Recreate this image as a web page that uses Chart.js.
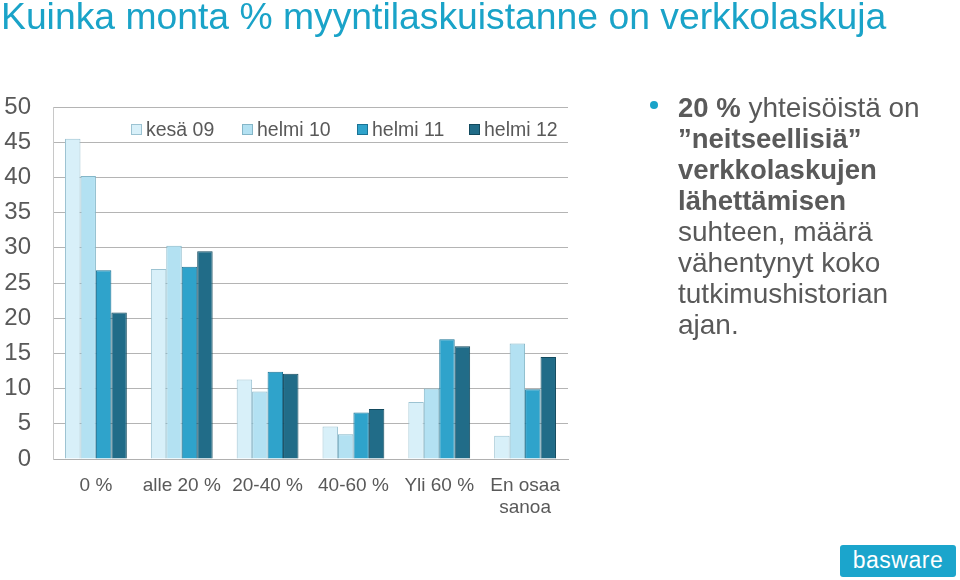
<!DOCTYPE html>
<html>
<head>
<meta charset="utf-8">
<script src="https://cdn.jsdelivr.net/npm/chart.js@4/dist/chart.umd.min.js"></script>
<style>
  html, body { margin: 0; padding: 0; background: #fff; }
  body { width: 960px; height: 580px; position: relative; overflow: hidden; font-family: "Liberation Sans", Arial, sans-serif; }
  #title { position: absolute; left: 1px; top: -5px; font-size: 37.3px; color: #1aa3c8; white-space: nowrap; }
  #wrap { position: absolute; left: 0; top: 0; width: 960px; height: 580px; }
  #note { position: absolute; left: 678px; top: 92px; font-size: 28px; line-height: 31px; color: #595959; white-space: nowrap; }
  #note b { color: #5a5a5a; font-size: 27.5px; }
  #bullet { position: absolute; left: 650px; top: 101px; width: 8px; height: 8px; border-radius: 50%; background: #1aa3c8; }
  #logo { position: absolute; left: 840px; top: 545px; width: 116px; height: 32px; background: #1ba5cc; border-radius: 3px; color: #fff; font-size: 23px; text-align: center; line-height: 30px; letter-spacing: 0.5px; }
</style>
</head>
<body>
<div id="wrap"><canvas id="c" width="960" height="580"></canvas></div>
<div id="title">Kuinka monta % myyntilaskuistanne on verkkolaskuja</div>
<div id="bullet"></div>
<div id="note"><b>20 %</b> yhteisöistä on<br><b>”neitseellisiä”</b><br><b>verkkolaskujen</b><br><b>lähettämisen</b><br>suhteen, määrä<br>vähentynyt koko<br>tutkimushistorian<br>ajan.</div>
<div id="logo">basware</div>
<script>
const categories = ["0 %", "alle 20 %", "20-40 %", "40-60 %", "Yli 60 %", ["En osaa", "sanoa"]];
const seriesNames = ["kesä 09", "helmi 10", "helmi 11", "helmi 12"];
const kesa09  = [45.5, 27.0, 11.3, 4.6, 8.1, 3.3];
const helmi10 = [40.2, 30.3, 9.6, 3.5, 10.0, 16.4];
const helmi11 = [26.8, 27.3, 12.4, 6.6, 17.0, 9.9];
const helmi12 = [20.8, 29.5, 12.1, 7.1, 16.0, 14.5];
const yTicks = [0, 5, 10, 15, 20, 25, 30, 35, 40, 45, 50];

const palette = [
  { edge: "#a9d6e6", mid: "#d8f0f9", border: "#9cc3d2" },
  { edge: "#86c9e2", mid: "#b3e1f2", border: "#84b6c8" },
  { edge: "#1b80a6", mid: "#2fa3cb", border: "#1a7395" },
  { edge: "#134f66", mid: "#216c88", border: "#134a5e" }
];

function gradFor(i) {
  return function(ctx) {
    const chart = ctx.chart;
    const el = ctx.element;
    if (!el || el.x === undefined || !el.width) return palette[i].mid;
    const x0 = el.x - el.width / 2, x1 = el.x + el.width / 2;
    const g = chart.ctx.createLinearGradient(x0, 0, x1, 0);
    g.addColorStop(0, palette[i].edge);
    g.addColorStop(0.35, palette[i].mid);
    g.addColorStop(0.65, palette[i].mid);
    g.addColorStop(1, palette[i].edge);
    return g;
  };
}

const allSeries = [kesa09, helmi10, helmi11, helmi12];
const datasets = allSeries.map((d, i) => ({
  label: seriesNames[i],
  data: d,
  backgroundColor: gradFor(i),
  borderColor: palette[i].border,
  borderWidth: 1,
  categoryPercentage: 0.72,
  barPercentage: 1.0
}));

const legendInside = {
  id: "legendInside",
  afterDraw(chart) {
    const ctx = chart.ctx;
    const xs = [131, 242, 357, 469];
    const y = 130;
    ctx.save();
    ctx.font = '19.5px "Liberation Sans", Arial, sans-serif';
    ctx.textBaseline = "middle";
    seriesNames.forEach((n, i) => {
      ctx.fillStyle = palette[i].mid;
      ctx.strokeStyle = palette[i].border;
      ctx.lineWidth = 1;
      ctx.fillRect(xs[i] + 0.5, y - 5.5, 10, 10);
      ctx.strokeRect(xs[i] + 0.5, y - 5.5, 10, 10);
      ctx.fillStyle = "#595959";
      ctx.fillText(n, xs[i] + 15, y + 1);
    });
    ctx.restore();
  }
};

new Chart(document.getElementById("c"), {
  type: "bar",
  data: { labels: categories, datasets },
  options: {
    responsive: false,
    animation: false,
    layout: { padding: { left: 0, top: 107, right: 392, bottom: 61 } },
    plugins: { legend: { display: false }, tooltip: { enabled: false }, title: { display: false } },
    scales: {
      x: {
        grid: { display: false },
        border: { color: "#b0b0b0" },
        ticks: { color: "#595959", font: { size: 19, family: '"Liberation Sans", Arial, sans-serif' }, maxRotation: 0, autoSkip: false, padding: 7, lineHeight: 1.2 },
        afterFit(s) { s.height = 60; }
      },
      y: {
        min: 0, max: 50,
        afterBuildTicks(s) { s.ticks = yTicks.map(v => ({ value: v })); },
        grid: { color: "#b4b4b4", drawTicks: false },
        border: { color: "#c8c8c8" },
        ticks: { color: "#595959", font: { size: 24, family: '"Liberation Sans", Arial, sans-serif' }, padding: 22 },
        afterFit(s) { s.width = 53; }
      }
    }
  },
  plugins: [legendInside]
});
</script>
</body>
</html>
